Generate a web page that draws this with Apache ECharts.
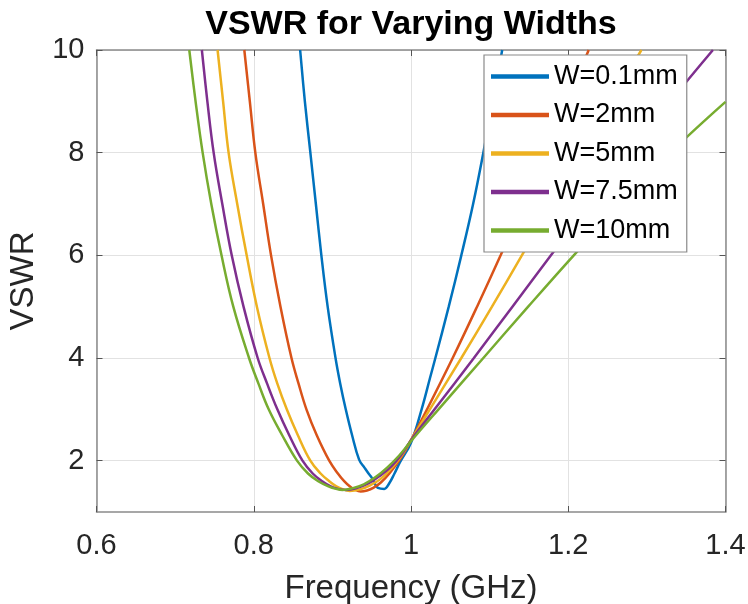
<!DOCTYPE html>
<html>
<head>
<meta charset="utf-8">
<script src="https://cdn.jsdelivr.net/npm/echarts@6/dist/echarts.min.js"></script>
<style>html,body{margin:0;padding:0;background:#fff;}#c{width:748px;height:604px;}</style>
</head>
<body>
<div id="c"></div>
<script>
// ---- data (frequency GHz, VSWR) ----
const seriesNames = ['W=0.1mm', 'W=2mm', 'W=5mm', 'W=7.5mm', 'W=10mm'];
const xTicks = [0.6, 0.8, 1.0, 1.2, 1.4];
const yTicks = [2, 4, 6, 8, 10];

const w01 = [[0.859,10],[0.865,9],[0.872,8],[0.879,7],[0.886,6],[0.894,5],[0.904,4],[0.910,3.5],[0.917,3],[0.925,2.5],[0.934,2.02],[0.941,1.86],[0.946,1.75],[0.950,1.67],[0.954,1.55],[0.958,1.47],[0.966,1.45],[0.972,1.55],[0.979,1.75],[0.986,1.97],[1.0,2.35],[1.0135,3.0],[1.024,3.6],[1.031,4.0],[1.048,5.0],[1.064,6.0],[1.079,7.0],[1.092,8.0],[1.104,9.0],[1.116,10]];
const w2 = [[0.788,10],[0.795,9],[0.802,8],[0.812,7],[0.822,6],[0.834,5],[0.848,4],[0.857,3.5],[0.867,3],[0.880,2.5],[0.896,2.0],[0.907,1.75],[0.915,1.6],[0.922,1.5],[0.927,1.45],[0.936,1.40],[0.944,1.42],[0.952,1.47],[0.962,1.58],[0.973,1.76],[0.987,2.05],[1.0,2.4],[1.0204,3.0],[1.053,4.0],[1.084,5.0],[1.114,6.0],[1.143,7.0],[1.171,8.0],[1.199,9.0],[1.226,10]];
const w5 = [[0.754,10],[0.761,9],[0.768,8],[0.779,7],[0.791,6],[0.804,5],[0.820,4],[0.830,3.5],[0.842,3],[0.856,2.5],[0.872,2.0],[0.885,1.75],[0.896,1.6],[0.905,1.5],[0.912,1.45],[0.922,1.41],[0.935,1.44],[0.948,1.52],[0.961,1.64],[0.975,1.85],[0.988,2.1],[1.0,2.4],[1.024,3.0],[1.064,4.0],[1.103,5.0],[1.141,6.0],[1.179,7.0],[1.217,8.0],[1.255,9.0],[1.293,10]];
const w75 = [[0.734,10],[0.741,9],[0.749,8],[0.760,7],[0.772,6],[0.787,5],[0.805,4],[0.817,3.5],[0.830,3],[0.845,2.5],[0.862,2.0],[0.875,1.75],[0.887,1.6],[0.898,1.5],[0.907,1.45],[0.917,1.43],[0.930,1.46],[0.945,1.55],[0.960,1.70],[0.975,1.89],[0.988,2.12],[1.0,2.4],[1.030,3.0],[1.080,4.0],[1.129,5.0],[1.178,6.0],[1.228,7.0],[1.279,8.0],[1.330,9.0],[1.384,10]];
const w10 = [[0.718,10],[0.726,9],[0.735,8],[0.746,7],[0.759,6],[0.774,5],[0.794,4],[0.806,3.5],[0.819,3],[0.836,2.5],[0.855,2.0],[0.869,1.75],[0.882,1.6],[0.895,1.5],[0.905,1.45],[0.913,1.43],[0.925,1.46],[0.940,1.54],[0.955,1.68],[0.970,1.87],[0.985,2.1],[1.0,2.38],[1.035,3.0],[1.092,4.0],[1.149,5.0],[1.207,6.0],[1.267,7.0],[1.330,8.0],[1.400,8.99]];
const seriesData = [w01, w2, w5, w75, w10];
const colors = ['#0072BD', '#D95319', '#EDB120', '#7E2F8E', '#77AC30'];

const FONT = '"Liberation Sans", Arial, Helvetica, sans-serif';
const boxColor = '#8a8a8a';
const gridColor = '#e2e2e2';

const chart = echarts.init(document.getElementById('c'), null, {renderer: 'canvas'});

function fmtX(v) { return String(Math.round(v * 10) / 10); }

const option = {
  animation: false,
  backgroundColor: '#fff',
  title: {
    text: 'VSWR for Varying Widths',
    left: 411, top: 8, textAlign: 'center', padding: 0,
    textStyle: {fontFamily: FONT, fontWeight: 'bold', fontSize: 34, color: '#000'}
  },
  legend: {
    data: seriesNames,
    orient: 'vertical',
    left: 484, top: 55,
    padding: [8, 9, 8, 7],
    itemWidth: 58, itemHeight: 26, itemGap: 11.5,
    backgroundColor: '#fff',
    borderColor: '#8a8a8a', borderWidth: 1.2,
    z: 20,
    textStyle: {fontFamily: FONT, fontSize: 27, color: '#000', lineHeight: 26},
    icon: 'path://M0,0 L100,0 L100,8 L0,8 Z'
  },
  grid: {left: 96.5, right: 22.5, top: 50, bottom: 92, containLabel: false, outerBoundsMode: 'none'},
  xAxis: [{
    type: 'value', min: 0.6, max: 1.4, position: 'bottom',
    name: 'Frequency (GHz)', nameLocation: 'middle', nameGap: 60,
    nameTextStyle: {fontFamily: FONT, fontSize: 33, color: '#262626'},
    axisLine: {show: true, onZero: false, lineStyle: {color: boxColor, width: 1.5}},
    axisTick: {show: true, inside: true, length: 6, customValues: xTicks, lineStyle: {color: '#555', width: 1}},
    axisLabel: {show: true, customValues: xTicks, margin: 19, formatter: fmtX,
      fontFamily: FONT, fontSize: 29, color: '#262626'},
    splitLine: {show: true, lineStyle: {color: gridColor, width: 1}}
  }, {
    type: 'value', min: 0.6, max: 1.4, position: 'top',
    axisLine: {show: true, onZero: false, lineStyle: {color: boxColor, width: 1.5}},
    axisTick: {show: true, inside: true, length: 6, customValues: xTicks, lineStyle: {color: '#555', width: 1}},
    axisLabel: {show: false},
    splitLine: {show: false}
  }],
  yAxis: [{
    type: 'value', min: 1, max: 10, position: 'left',
    name: 'VSWR', nameLocation: 'middle', nameGap: 56, nameRotate: 90,
    nameTextStyle: {fontFamily: FONT, fontSize: 33, color: '#262626'},
    axisLine: {show: true, onZero: false, lineStyle: {color: boxColor, width: 1.5}},
    axisTick: {show: true, inside: true, length: 6, customValues: yTicks, lineStyle: {color: '#555', width: 1}},
    axisLabel: {show: true, customValues: yTicks, margin: 12,
      fontFamily: FONT, fontSize: 29, color: '#262626'},
    splitLine: {show: true, lineStyle: {color: gridColor, width: 1}}
  }, {
    type: 'value', min: 1, max: 10, position: 'right',
    axisLine: {show: true, onZero: false, lineStyle: {color: boxColor, width: 1.5}},
    axisTick: {show: true, inside: true, length: 6, customValues: yTicks, lineStyle: {color: '#555', width: 1}},
    axisLabel: {show: false},
    splitLine: {show: false}
  }],
  series: seriesNames.map((n, i) => ({
    name: n, type: 'line', data: seriesData[i],
    xAxisIndex: 0, yAxisIndex: 0,
    showSymbol: false, symbol: 'none',
    smooth: 0.4,
    clip: true,
    lineStyle: {color: colors[i], width: 2.5},
    itemStyle: {color: colors[i]},
    z: 2
  }))
};
chart.setOption(option);
</script>
</body>
</html>
